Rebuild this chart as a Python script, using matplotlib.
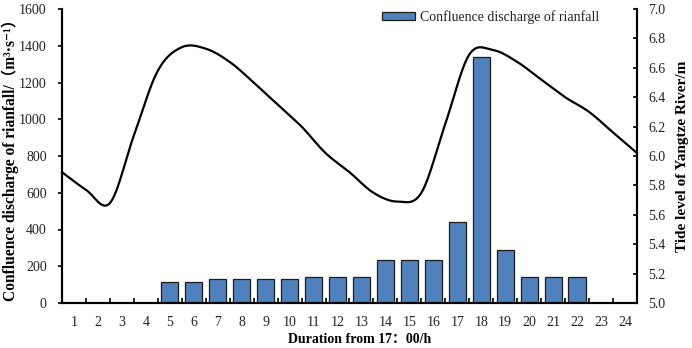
import numpy as np
import matplotlib
matplotlib.use("Agg")
import matplotlib.pyplot as plt
from matplotlib.ticker import FixedLocator, FormatStrFormatter

# ---------------- data ----------------
hours = list(range(1, 25))
discharge = [0, 0, 0, 0, 116, 116, 128, 128, 128, 128, 139, 139, 139,
             233, 233, 233, 443, 1340, 286, 139, 139, 139, 0, 0]
# tide level at hour boundaries 0..24
tide_hours = list(range(0, 25))
tide_level = [5.89, 5.77, 5.68, 6.14, 6.58, 6.74, 6.73, 6.64, 6.50, 6.35,
              6.20, 6.02, 5.89, 5.75, 5.69, 5.75, 6.22, 6.69, 6.72, 6.64,
              6.52, 6.40, 6.30, 6.16, 6.02]
left_ticks = [0, 200, 400, 600, 800, 1000, 1200, 1400, 1600]
right_ticks = [5.0, 5.2, 5.4, 5.6, 5.8, 6.0, 6.2, 6.4, 6.6, 6.8, 7.0]

SERIF = ['Liberation Serif', 'Noto Sans CJK SC', 'DejaVu Sans']
plt.rcParams['font.family'] = SERIF

fig = plt.figure(figsize=(6.92, 3.48), dpi=100)
ax = fig.add_axes([62/692, 45/348, 575/692, 294/348])

ax.bar(hours, discharge, width=0.72, color='#4F81BD', edgecolor='#1c1c1c',
       linewidth=0.9, label='Confluence discharge of rianfall', zorder=2)
ax.set_xlim(0.5, 24.5)
ax.set_ylim(0, 1600)
ax.set_yticks(left_ticks)
ax.set_xticks(hours)
ax.set_xticklabels([str(h) for h in hours])
ax.xaxis.set_minor_locator(FixedLocator([h + 0.5 for h in range(0, 25)]))
ax.tick_params(axis='x', which='major', length=0, labelsize=10, pad=9)
ax.tick_params(axis='x', which='minor', length=3.5, direction='in', width=1.2)
ax.tick_params(axis='y', which='major', length=3, direction='out', width=1.2,
               labelsize=10, pad=8)
for lbl in ax.get_yticklabels() + ax.get_xticklabels():
    lbl.set_color('#222222')
for s in ['left', 'bottom', 'right']:
    ax.spines[s].set_linewidth(1.5)
ax.spines['top'].set_visible(False)

ax.set_ylabel('Confluence discharge of rianfall/（m³·s⁻¹）', fontsize=11.2,
              fontweight='bold')
ax.yaxis.set_label_coords((19 - 62) / 575, 0.5)
ax.set_xlabel('Duration from 17：00/h', fontsize=10, fontweight='bold')
ax.xaxis.set_label_coords((360 - 62) / 575, -30 / 294)

# ---- secondary axis with smoothed line ----
ax2 = ax.twinx()
ax2.set_ylim(5.0, 7.0)
ax2.set_yticks(right_ticks)
ax2.yaxis.set_major_formatter(FormatStrFormatter('%.1f'))
ax2.tick_params(axis='y', length=3, direction='in', width=1.2, labelsize=10, pad=8)
for lbl in ax2.get_yticklabels():
    lbl.set_color('#222222')
ax2.spines['top'].set_visible(False)
ax2.spines['right'].set_linewidth(1.5)
ax2.spines['left'].set_linewidth(1.5)
ax2.spines['bottom'].set_linewidth(1.5)
ax2.set_ylabel('Tide level of Yangtze River/m', fontsize=11, fontweight='bold',
               labelpad=8)

# Excel-like smoothing (Catmull-Rom Bezier) in screen-proportional units
xs = np.array(tide_hours, dtype=float) + 0.5
ys = np.array(tide_level, dtype=float)
sx, sy = 24.0, 147.0
P = np.column_stack([xs * sx, ys * sy])
n = len(P)
curve = []
t = np.linspace(0, 1, 30)
for i in range(n - 1):
    p0 = P[i - 1] if i > 0 else P[i]
    p1 = P[i]
    p2 = P[i + 1]
    p3 = P[i + 2] if i + 2 < n else P[i + 1]
    c1 = p1 + (p2 - p0) / 6.0
    c2 = p2 - (p3 - p1) / 6.0
    seg = ((1 - t)[:, None] ** 3 * p1 + 3 * ((1 - t) ** 2 * t)[:, None] * c1
           + 3 * ((1 - t) * t ** 2)[:, None] * c2 + (t ** 3)[:, None] * p2)
    curve.append(seg if i == 0 else seg[1:])
curve = np.vstack(curve)
ax2.plot(curve[:, 0] / sx, curve[:, 1] / sy, color='black', lw=1.6, zorder=3,
         clip_on=False)
ax2.set_xlim(0.5, 24.5)

leg = ax.legend(loc='upper left', bbox_to_anchor=(382/692, 1 - 10/348),
                bbox_transform=fig.transFigure, frameon=False, fontsize=10,
                handlelength=2.4, handleheight=0.55, handletextpad=0.3,
                borderaxespad=0, borderpad=0)
for txt in leg.get_texts():
    txt.set_color('#222222')

fig.savefig('out.png', dpi=100)
